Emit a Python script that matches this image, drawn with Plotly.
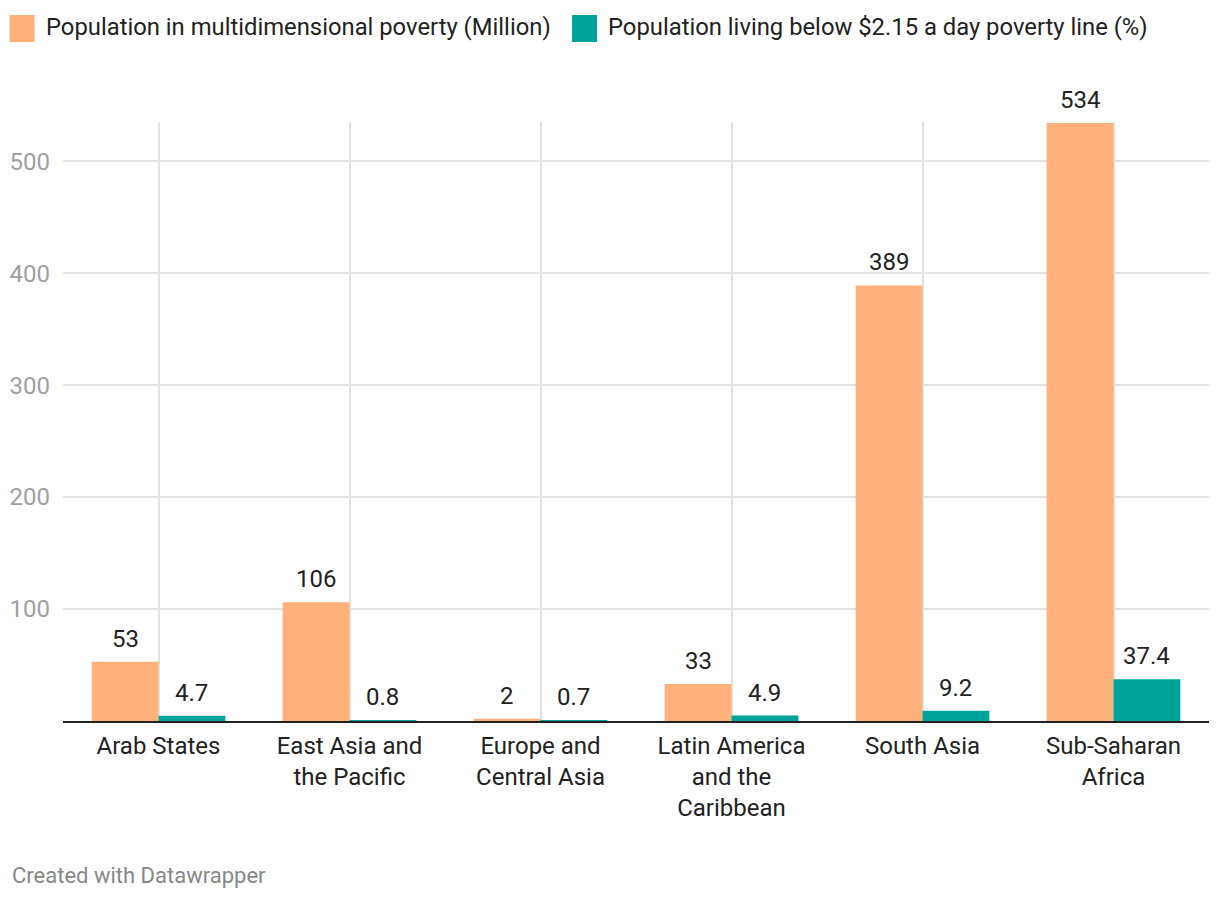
import plotly.graph_objects as go

categories = ["Arab States", "East Asia and<br>the Pacific", "Europe and<br>Central Asia",
              "Latin America<br>and the<br>Caribbean", "South Asia", "Sub-Saharan<br>Africa"]
mpi_million = [53, 106, 2, 33, 389, 534]
below_215_pct = [4.7, 0.8, 0.7, 4.9, 9.2, 37.4]
mpi_labels = ["53", "106", "2", "33", "389", "534"]
pct_labels = ["4.7", "0.8", "0.7", "4.9", "9.2", "37.4"]
series_names = ["Population in multidimensional poverty (Million)",
                "Population living below $2.15 a day poverty line (%)"]
y_ticks = [100, 200, 300, 400, 500]

ORANGE = "#ffb07b"
TEAL = "#00a39a"
FONT = "Roboto"

# page has an 8px body margin; window coordinates below
PL, PR, PT, PB = 62.5, 1209.5, 122, 721
PW, PH = PR - PL, PB - PT

fig = go.Figure()
fig.add_trace(go.Bar(x=categories, y=mpi_million, name=series_names[0],
                     marker=dict(color=ORANGE, line=dict(width=0)), showlegend=False))
fig.add_trace(go.Bar(x=categories, y=below_215_pct, name=series_names[1],
                     marker=dict(color=TEAL, line=dict(width=0)), showlegend=False))

# value labels
cat_px = PW / 6
off = 0.175 * cat_px
annotations = []
for i, c in enumerate(categories):
    annotations.append(dict(x=c, y=mpi_million[i], text=mpi_labels[i], xref="x", yref="y",
                            xshift=-off, yshift=7, yanchor="bottom", showarrow=False,
                            font=dict(family=FONT, size=24, color="#222")))
    annotations.append(dict(x=c, y=below_215_pct[i], text=pct_labels[i], xref="x", yref="y",
                            xshift=off, yshift=7, yanchor="bottom", showarrow=False,
                            font=dict(family=FONT, size=24, color="#222")))

# custom legend
shapes = []
legend_x = [9, 572]
for j, name in enumerate(series_names):
    x0 = legend_x[j]
    shapes.append(dict(type="rect", xref="paper", yref="paper",
                       x0=(x0 - PL) / PW, x1=(x0 + 25 - PL) / PW,
                       y0=(PB - 42) / PH, y1=(PB - 15) / PH,
                       fillcolor=[ORANGE, TEAL][j], line=dict(width=0)))
    annotations.append(dict(x=(x0 + 34 - PL) / PW, y=(PB - 27) / PH, xref="paper", yref="paper",
                            text=name, showarrow=False, xanchor="left", yanchor="middle",
                            font=dict(family=FONT, size=23.8, color="#222")))

annotations.append(dict(x=(9 - PL) / PW, y=(PB - 875) / PH, xref="paper", yref="paper",
                        text="Created with Datawrapper", showarrow=False, xanchor="left", yanchor="middle",
                        font=dict(family=FONT, size=22, color="#888")))

fig.update_layout(
    width=1212, height=892,
    margin=dict(l=PL - 8, r=1220 - PR, t=PT - 8, b=900 - PB),
    paper_bgcolor="white", plot_bgcolor="white",
    barmode="group", bargap=0.3, bargroupgap=0,
    font=dict(family=FONT, color="#222"),
    xaxis=dict(showgrid=True, gridcolor="#e2e2e2", gridwidth=2, showline=True, linecolor="#222",
               linewidth=2, ticks="", ticklabelstandoff=2, automargin=False,
               tickfont=dict(family=FONT, size=24, color="#222"), fixedrange=True),
    yaxis=dict(range=[0, 535], tickvals=y_ticks, showgrid=True, gridcolor="#e2e2e2", gridwidth=2,
               zeroline=False, showline=False, ticks="", ticklabelstandoff=12, automargin=False,
               tickfont=dict(family=FONT, size=24, color="#a0a0a0")),
    annotations=annotations, shapes=shapes,
)

fig.write_html("out.html")
